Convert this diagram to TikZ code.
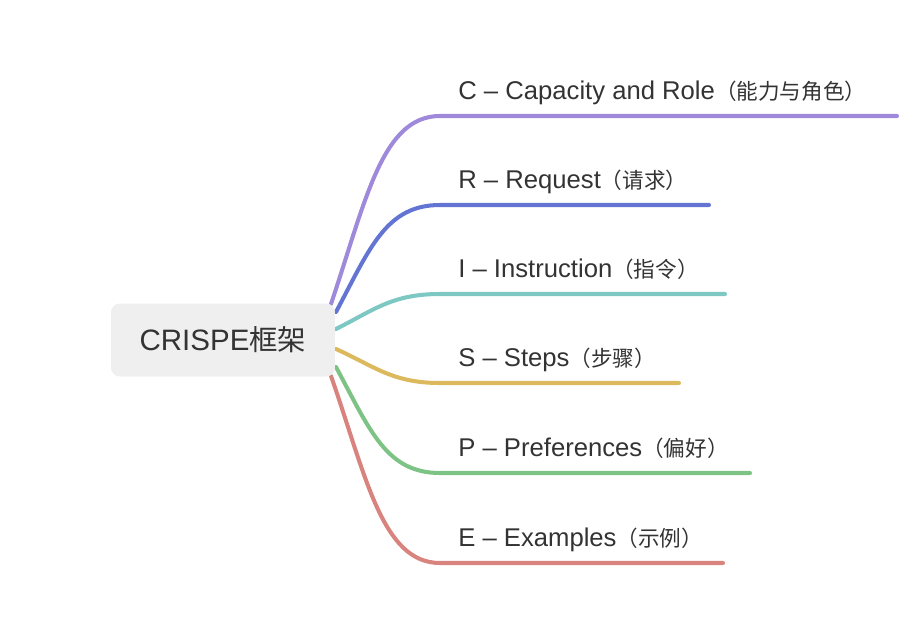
\documentclass[tikz,border=0pt]{standalone}
\usepackage{fontspec}
\setmainfont{Liberation Sans}
\newfontfamily\cjk{Noto Sans CJK SC}
\usepackage{tikz}
\usetikzlibrary{positioning}
\definecolor{txtgray}{HTML}{333333}
\definecolor{boxgray}{HTML}{EFEFEF}
\definecolor{cpurple}{HTML}{9E89DB}
\definecolor{cblue}{HTML}{6474D2}
\definecolor{cteal}{HTML}{7DC8C3}
\definecolor{cyellow}{HTML}{DDB95E}
\definecolor{cgreen}{HTML}{7DC385}
\definecolor{cred}{HTML}{D9837F}
\newcommand{\zh}[1]{{\cjk\fontsize{12.3}{14}\selectfont #1}}

\begin{document}
\begin{tikzpicture}[
    x=0.02cm, y=-0.02cm,
    root/.style={fill=boxgray, rounded corners=5pt, minimum width=4.48cm,
        minimum height=1.46cm, text=txtgray, inner sep=0pt,
        font=\fontsize{16.8}{20}\selectfont},
    leaf/.style={anchor=base west, inner sep=0pt, text=txtgray,
        font=\fontsize{14.6}{17}\selectfont},
    branch/.style={line width=2.3pt, line cap=round}
]
\useasboundingbox (0,0) rectangle (914,630);

% branch lines first, box on top
\coordinate (sC) at (331,304);
\coordinate (sR) at (336,312);
\coordinate (sI) at (336,329);
\coordinate (sS) at (336,349);
\coordinate (sP) at (336,367);
\coordinate (sE) at (331,376);

\coordinate (mC) at (440,116); \coordinate (eC) at (897,116);
\coordinate (mR) at (440,205); \coordinate (eR) at (709,205);
\coordinate (mI) at (440,294); \coordinate (eI) at (725,294);
\coordinate (mS) at (440,383); \coordinate (eS) at (679,383);
\coordinate (mP) at (440,473); \coordinate (eP) at (750,473);
\coordinate (mE) at (440,563); \coordinate (eE) at (723,563);

\draw[branch, cpurple] (sC) .. controls (366,200) and (382,116) .. (mC) -- (eC);
\draw[branch, cblue]   (sR) .. controls (370,248) and (386,205) .. (mR) -- (eR);
\draw[branch, cteal]   (sI) .. controls (374,310) and (392,294) .. (mI) -- (eI);
\draw[branch, cyellow] (sS) .. controls (374,366) and (392,383) .. (mS) -- (eS);
\draw[branch, cgreen]  (sP) .. controls (370,430) and (386,473) .. (mP) -- (eP);
\draw[branch, cred]    (sE) .. controls (366,476) and (382,563) .. (mE) -- (eE);

% centre topic
\node[root] (crispe) at (223,340) {CRISPE{\cjk\fontsize{16.2}{18}\selectfont 框架}};

% labels
\node[leaf] (lC) at (458,99)  {C – Capacity and Role\zh{（能力与角色）}};
\node[leaf] (lR) at (458,188) {R – Request\zh{（请求）}};
\node[leaf] (lI) at (458,277) {I – Instruction\zh{（指令）}};
\node[leaf] (lS) at (458,366) {S – Steps\zh{（步骤）}};
\node[leaf] (lP) at (458,456) {P – Preferences\zh{（偏好）}};
\node[leaf] (lE) at (458,546) {E – Examples\zh{（示例）}};

\end{tikzpicture}
\end{document}
